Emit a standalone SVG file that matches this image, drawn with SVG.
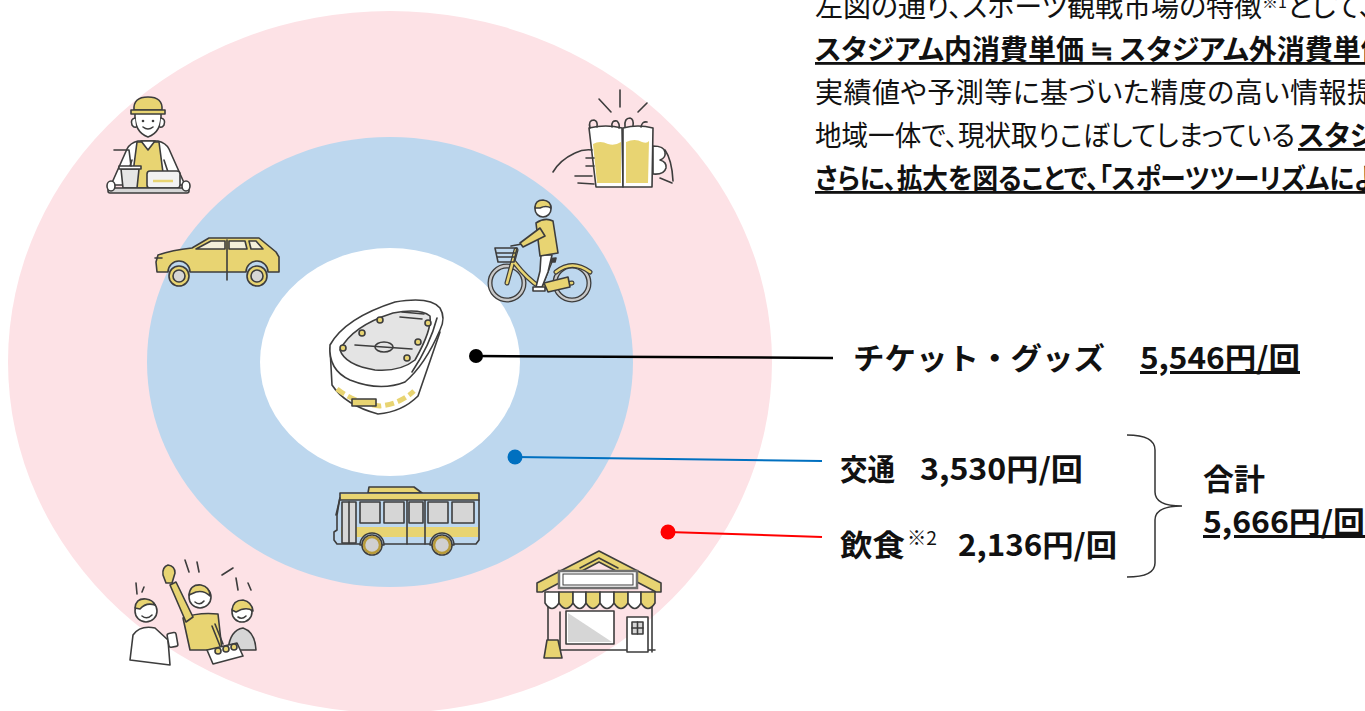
<svg xmlns="http://www.w3.org/2000/svg" width="1365" height="711" viewBox="0 0 1365 711">
  <defs>
    <style>
      .ln{fill:none;stroke:#3d3d3d;stroke-width:1.6;stroke-linecap:round;stroke-linejoin:round}
      .o{stroke:#3d3d3d;stroke-width:1.6;stroke-linecap:round;stroke-linejoin:round}
      .y{fill:#E8D472}
      .g{fill:#D6D6D6}
      .w{fill:#FFFFFF}
      .bg{fill:#BDD7EE}
      .jp{font-family:"Noto Sans CJK JP","Noto Sans",sans-serif;fill:#111}
      .body{font-size:28px;font-feature-settings:"palt"}
      .b{font-weight:bold}
      .u{text-decoration:underline}
      .lab{font-size:30px;font-weight:bold}
    </style>
  </defs>
  <rect width="1365" height="711" fill="#FFFFFF"/>

  <!-- concentric spending zones -->
  <g id="zones">
    <ellipse cx="390" cy="362" rx="382" ry="351" fill="#FDE2E6"/>
    <ellipse cx="390" cy="362" rx="243" ry="225" fill="#BDD7EE"/>
    <ellipse cx="390" cy="362" rx="130" ry="114" fill="#FFFFFF"/>
  </g>

  <!-- waiter carrying a tray -->
  <g id="waiter">
    <path class="o w" d="M111,185 L127,149 Q130,143 138,141 L158,141 Q166,143 169,149 L185,185 Z"/>
    <path class="ln" d="M124,184 L132,160 M172,184 L164,160"/>
    <path class="o y" d="M137,142 L159,142 L165,188 L131,188 Z"/>
    <path class="o w" d="M141,141 L148,150 L155,141 Z"/>
    <path class="o w" d="M135,113 Q134,132 148,137 Q162,132 161,113 Z"/>
    <path class="o w" d="M135,118 Q130,119 132,125 Q134,128 136,127"/>
    <path class="o w" d="M161,118 Q166,119 164,125 Q162,128 160,127"/>
    <circle cx="143" cy="121" r="1.3" fill="#3d3d3d"/>
    <circle cx="153" cy="121" r="1.3" fill="#3d3d3d"/>
    <path class="ln" d="M143,127 Q148,131 153,127"/>
    <path class="o y" d="M134,110 Q133,97 148,97 Q163,97 162,110 Z"/>
    <path class="o y" d="M131,110 L165,110 L165,114 L131,114 Z"/>
    <path class="o" fill="#E6E6E6" d="M121,169 L139,169 L137,188 L123,188 Z"/>
    <rect class="o w" x="119" y="166" width="22" height="3"/>
    <path class="ln" d="M131,166 L129,150 L114,150"/>
    <rect class="o" fill="#F2F2F2" x="147" y="171" width="33" height="17" rx="3"/>
    <path d="M153,181 L173,181" stroke="#E8D472" stroke-width="2.5"/>
    <rect class="o g" x="108" y="188" width="81" height="5" rx="2"/>
    <ellipse class="o w" cx="111" cy="186" rx="4" ry="5"/>
    <ellipse class="o w" cx="186" cy="186" rx="4" ry="5"/>
  </g>

  <!-- two beer mugs clinking -->
  <g id="beer">
    <path class="ln" d="M620,90 L620,107 M599,99 L611,112 M647,103 L638,112"/>
    <path class="o w" d="M589,128 Q606,124 622,128 L623,187 L596,187 Z"/>
    <path class="y" d="M593,144 Q600,140 608,144 Q615,146 621,142 L621,183 L597,183 Z"/>
    <path class="o w" d="M623,128 Q638,124 653,128 L652,187 L623,187 Z"/>
    <path class="y" d="M626,142 Q635,138 642,142 Q647,144 649,141 L648,183 L626,183 Z"/>
    <path class="ln" d="M590,128 Q588,120 594,120 Q598,121 597,127 M612,127 Q611,120 617,121 Q620,124 619,128 M625,127 Q624,118 630,118 Q634,119 633,126 M641,127 Q642,121 647,122"/>
    <path class="ln" d="M553,172 Q560,160 575,153 Q583,149 592,150 M575,176 L592,176 M578,183 L594,184 M586,158 L594,158 M586,166 L594,166"/>
    <path class="o w" d="M653,146 Q664,146 665,152 Q666,158 660,160 Q667,162 666,168 Q664,175 653,174 Z"/>
    <path class="ln" d="M665,150 Q672,160 673,181 M660,178 L672,183"/>
  </g>

  <!-- car -->
  <g id="car">
    <path class="o y" d="M156,262 L158,255 Q172,250 192,248 L209,238 L259,238 L276,252 L279,257 L279,272 L268,272 A11,11 0 0 0 246,272 L190,272 A11,11 0 0 0 168,272 L157,272 Z"/>
    <path class="o" fill="#F4EFD9" d="M196,249 L211,241 L225,241 L225,249 Z"/>
    <path class="o" fill="#F4EFD9" d="M229,241 L245,241 L247,249 L229,249 Z"/>
    <path class="o" fill="#F4EFD9" d="M249,241 L256,241 L263,249 L251,249 Z"/>
    <path class="ln" d="M227,240 L227,280 M155,258 L162,258"/>
    <circle class="o y" cx="179" cy="276" r="10"/>
    <circle class="o g" cx="179" cy="276" r="6"/>
    <circle class="o y" cx="257" cy="276" r="10"/>
    <circle class="o g" cx="257" cy="276" r="6"/>
  </g>

  <!-- cyclist -->
  <g id="bicycle">
    <circle cx="507" cy="283" r="17" fill="none" stroke="#3d3d3d" stroke-width="5"/>
    <circle cx="507" cy="283" r="17" fill="none" stroke="#C8C8C8" stroke-width="2.4"/>
    <circle cx="572" cy="283" r="17" fill="none" stroke="#3d3d3d" stroke-width="5"/>
    <circle cx="572" cy="283" r="17" fill="none" stroke="#C8C8C8" stroke-width="2.4"/>
    <path d="M507,283 L516,250 M514,262 Q528,280 540,287 L572,283 M550,262 L540,287 M556,272 Q572,259 590,272" fill="none" stroke="#3d3d3d" stroke-width="5" stroke-linecap="round"/>
    <path d="M507,283 L516,250 M514,262 Q528,280 540,287 L572,283 M550,262 L540,287 M556,272 Q572,259 590,272" fill="none" stroke="#E8D472" stroke-width="2.6" stroke-linecap="round"/>
    <path class="o y" d="M544,283 L568,277 L570,287 L548,292 Z"/>
    <path class="o" fill="#3d3d3d" d="M546,259 L556,258 L555,262 L547,262 Z"/>
    <path class="ln" d="M495,248 L517,248 L514,262 L498,262 Z M496,253 L516,253 M497,257 L515,257 M511,246 L522,244"/>
    <path class="o w" d="M541,255 L552,255 L548,272 L542,287 L536,287 L540,271 Z"/>
    <path class="o w" d="M533,287 L545,287 L545,291 L533,291 Z"/>
    <path class="o y" d="M536,223 Q545,217 553,221 L558,253 L540,256 Z"/>
    <path class="o y" d="M540,228 L520,243 L523,247 L545,236 Z"/>
    <circle class="o w" cx="543" cy="209" r="8"/>
    <path class="o y" d="M535,208 Q535,200 543,200 Q551,201 551,208 Q546,205 540,208 Z"/>
  </g>

  <!-- stadium -->
  <g id="stadium">
    <path class="o w" d="M330,348 L332,385 Q345,405 378,414 Q402,412 418,396 L440,332 Z"/>
    <path d="M337,389 Q355,403 380,406 Q400,404 414,391" fill="none" stroke="#E8D472" stroke-width="5" stroke-dasharray="9,4"/>
    <rect class="o y" x="352" y="399" width="24" height="7"/>
    <path class="o w" d="M330,345 Q345,318 395,302 Q430,296 440,308 Q446,318 440,330 Q425,365 405,382 Q380,392 350,380 Q328,370 330,345 Z"/>
    <path class="o" fill="#E4E4E4" d="M340,350 Q352,326 393,313 Q420,308 430,316 Q432,330 415,360 Q400,372 375,370 Q345,365 340,350 Z"/>
    <path class="ln" d="M355,345 L412,349 M402,312 L424,314 M400,317 L422,319 M437,318 Q430,345 412,372"/>
    <ellipse class="ln" cx="384" cy="347" rx="9" ry="5"/>
    <circle class="o y" cx="343" cy="348" r="3"/>
    <circle class="o y" cx="362" cy="333" r="3"/>
    <circle class="o y" cx="380" cy="320" r="3"/>
    <circle class="o y" cx="428" cy="323" r="3"/>
    <circle class="o y" cx="418" cy="342" r="3"/>
    <circle class="o y" cx="407" cy="358" r="3"/>
  </g>

  <!-- bus -->
  <g id="bus">
    <path class="o y" d="M368,493 L369,487 L414,487 L422,493 Z"/>
    <path class="o bg" d="M340,493 L479,493 L479,540 L476,544 L337,544 L334,540 L334,532 L337,530 L337,515 L340,497 Z"/>
    <rect class="y" x="341" y="494" width="137" height="6"/>
    <rect class="y" x="341" y="527" width="137" height="10"/>
    <path class="ln" d="M340,500 L479,500 M336,515 L340,498 M407,500 L407,544 M425,500 L425,544"/>
    <rect class="o g" x="342" y="502" width="14" height="41"/>
    <path class="ln" d="M349,502 L349,543"/>
    <rect class="o g" x="360" y="502" width="20" height="21"/>
    <rect class="o g" x="384" y="502" width="20" height="21"/>
    <rect class="o g" x="409" y="502" width="14" height="21"/>
    <rect class="o g" x="428" y="502" width="20" height="21"/>
    <rect class="o g" x="452" y="502" width="22" height="21"/>
    <path class="o bg" d="M360,545 A12,12 0 0 1 384,545 Z"/>
    <path class="o bg" d="M430,545 A12,12 0 0 1 454,545 Z"/>
    <circle cx="372" cy="545" r="10" fill="#D0D0D0" stroke="#3d3d3d" stroke-width="1.6"/>
    <circle cx="372" cy="545" r="8" fill="none" stroke="#B89B3A" stroke-width="2.5"/>
    <circle cx="442" cy="545" r="10" fill="#D0D0D0" stroke="#3d3d3d" stroke-width="1.6"/>
    <circle cx="442" cy="545" r="8" fill="none" stroke="#B89B3A" stroke-width="2.5"/>
  </g>

  <!-- cheering friends with food -->
  <g id="cheer">
    <path class="ln" d="M136,583 L137,594 M144,587 L142,592 M185,560 L189,572 M197,562 L199,572 M222,575 L233,568 M236,578 L238,590 M248,583 L251,590"/>
    <path class="o y" d="M183,618 Q198,612 218,614 L222,650 L190,650 Z"/>
    <path class="o y" d="M186,622 L170,585 L176,582 L193,617 Z"/>
    <path class="o y" d="M163,575 Q162,567 168,565 Q175,566 175,573 L172,583 L166,583 Z"/>
    <circle class="o w" cx="200" cy="597" r="11"/>
    <path class="o y" d="M189,595 Q190,584 201,585 Q210,587 210,596 Q204,590 196,592 Z"/>
    <path class="ln" d="M195,602 Q200,606 204,601"/>
    <path class="o w" d="M130,660 L133,635 Q140,625 155,628 L168,640 L170,665 Z"/>
    <circle class="o w" cx="146" cy="611" r="11"/>
    <path class="o y" d="M135,608 Q136,598 146,599 Q153,600 155,605 Q146,602 140,609 Z"/>
    <path class="ln" d="M142,616 Q147,620 152,615"/>
    <rect class="o w" x="168" y="633" width="9" height="14" rx="2" transform="rotate(-10 172 640)"/>
    <path class="o g" d="M228,650 Q230,630 243,628 Q255,632 256,650 Z"/>
    <circle class="o w" cx="242" cy="612" r="10"/>
    <path class="o y" d="M232,610 Q233,600 243,600 Q252,602 253,611 Q246,606 236,612 Z"/>
    <path class="ln" d="M238,617 Q242,620 246,616 M212,626 L220,646 M215,624 L223,644"/>
    <path class="o w" d="M207,650 L237,643 L243,656 L213,664 Z"/>
    <circle class="o y" cx="218" cy="651" r="3"/>
    <circle class="o y" cx="226" cy="649" r="3"/>
    <circle class="o y" cx="234" cy="647" r="3"/>
  </g>

  <!-- shop front -->
  <g id="shop">
    <path class="ln" d="M548,592 L548,650 M652,592 L652,652 M546,650 L655,650 M560,650 L560,612"/>
    <rect class="o w" x="566" y="611" width="48" height="33"/>
    <path class="g" d="M568,613 L568,642 L612,642 Z"/>
    <rect class="o w" x="627" y="617" width="21" height="35"/>
    <rect class="o g" x="632" y="622" width="11" height="12"/>
    <path class="ln" d="M637.5,622 L637.5,634 M632,628 L643,628"/>
    <path class="o y" d="M537,583 L599,551 L661,583 L661,592 L656,592 L599,562 L542,592 L537,592 Z"/>
    <path class="ln" d="M580,568 L599,558 L618,568"/>
    <rect x="559" y="571" width="78" height="17" fill="#FFFFFF" stroke="#707070" stroke-width="2.5"/>
    <rect x="563" y="574" width="70" height="11" fill="none" stroke="#3d3d3d" stroke-width="1"/>
    <path class="o w" d="M545,592 L545,603 Q552,614 559,603 L559,592 Z"/>
    <path class="o y" d="M559,592 L559,603 Q566,614 573,603 L573,592 Z"/>
    <path class="o w" d="M573,592 L573,603 Q580,614 586,603 L586,592 Z"/>
    <path class="o y" d="M586,592 L586,603 Q593,614 600,603 L600,592 Z"/>
    <path class="o w" d="M600,592 L600,603 Q607,614 614,603 L614,592 Z"/>
    <path class="o y" d="M614,592 L614,603 Q621,614 628,603 L628,592 Z"/>
    <path class="o w" d="M628,592 L628,603 Q635,614 641,603 L641,592 Z"/>
    <path class="o y" d="M641,592 L641,603 Q648,614 655,603 L655,592 Z"/>
    <path class="o y" d="M547,640 L558,640 L562,658 L544,658 Z"/>
  </g>

  <!-- leader lines -->
  <g id="connectors">
    <line x1="476" y1="356" x2="833" y2="358" stroke="#000000" stroke-width="2.5"/>
    <circle cx="476" cy="356" r="7" fill="#000000"/>
    <line x1="515" y1="457" x2="822" y2="461" stroke="#0070C0" stroke-width="2"/>
    <circle cx="515" cy="457" r="7.5" fill="#0070C0"/>
    <line x1="668" y1="532" x2="822" y2="537" stroke="#FF0000" stroke-width="2"/>
    <circle cx="668" cy="532" r="7.5" fill="#FF0000"/>
    <path d="M1127,435 Q1155,435 1155,450 L1155,492 Q1155,506 1182,506 Q1155,506 1155,520 L1155,563 Q1155,577 1127,577" fill="none" stroke="#333333" stroke-width="1.5"/>
  </g>

  <!-- category labels -->
  <g id="labels" class="jp">
    <text x="853" y="369" class="lab" font-size="28" textLength="252" lengthAdjust="spacingAndGlyphs">チケット・グッズ</text>
    <text x="1140" y="369" class="lab u" textLength="160" lengthAdjust="spacingAndGlyphs">5,546円/回</text>
    <text x="840" y="480" class="lab" textLength="55" lengthAdjust="spacingAndGlyphs">交通</text>
    <text x="920" y="480" class="lab" textLength="163" lengthAdjust="spacingAndGlyphs">3,530円/回</text>
    <text x="840" y="556" class="lab" textLength="65" lengthAdjust="spacingAndGlyphs">飲食</text>
    <text x="907" y="545" font-size="19" textLength="30" lengthAdjust="spacingAndGlyphs">※2</text>
    <text x="958" y="556" class="lab" textLength="159" lengthAdjust="spacingAndGlyphs">2,136円/回</text>
    <text x="1203" y="490" class="lab" textLength="62" lengthAdjust="spacingAndGlyphs">合計</text>
    <text x="1203" y="533" class="lab u" textLength="162" lengthAdjust="spacingAndGlyphs">5,666円/回</text>
  </g>

  <!-- explanatory paragraph -->
  <g id="paragraph" class="jp body">
    <text x="815" y="17">左図の通り、スポーツ観戦市場の特徴<tspan font-size="16" dy="-9">※1</tspan><tspan dy="9">として、</tspan></text>
    <text x="815" y="60" class="b u">スタジアム内消費単価 ≒ スタジアム外消費単価</text>
    <text x="815" y="103" textLength="560" lengthAdjust="spacing">実績値や予測等に基づいた精度の高い情報提</text>
    <text x="815" y="146" textLength="480" lengthAdjust="spacingAndGlyphs">地域一体で、現状取りこぼしてしまっている</text>
    <text x="1298" y="146" class="b u">スタジ</text>
    <text x="815" y="189" class="b u" textLength="562" lengthAdjust="spacingAndGlyphs">さらに、拡大を図ることで、「スポーツツーリズムによ</text>
  </g>
</svg>
